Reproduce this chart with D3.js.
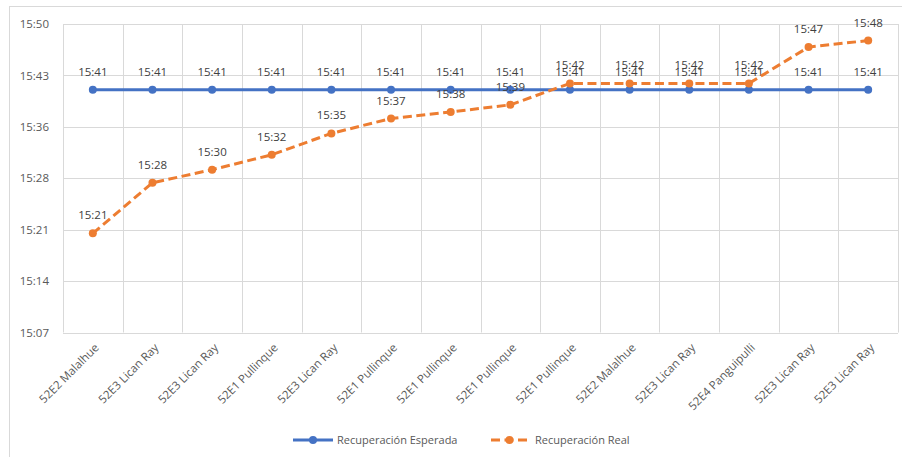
<!DOCTYPE html>
<html>
<head>
<meta charset="utf-8">
<script src="https://cdn.jsdelivr.net/npm/d3@7"></script>
<style>
  html, body { margin: 0; padding: 0; background: #fff; }
  svg { display: block; font-family: "Open Sans", sans-serif; }
</style>
</head>
<body>
<div id="chart"></div>
<script>
// categories along the x axis
const categories = [
  '52E2 Malalhue', '52E3 Lican Ray', '52E3 Lican Ray', '52E1 Pullinque',
  '52E3 Lican Ray', '52E1 Pullinque', '52E1 Pullinque', '52E1 Pullinque',
  '52E1 Pullinque', '52E2 Malalhue', '52E3 Lican Ray', '52E4 Panguipulli',
  '52E3 Lican Ray', '52E3 Lican Ray'
];

// times (hh:mm:ss, seconds estimated)
const esperada = [
  '15:41:12', '15:41:12', '15:41:12', '15:41:12', '15:41:12', '15:41:12', '15:41:12',
  '15:41:12', '15:41:12', '15:41:12', '15:41:12', '15:41:12', '15:41:12', '15:41:12'
];
const real = [
  '15:21:05', '15:28:10', '15:30:00', '15:32:05', '15:35:05', '15:37:10', '15:38:05',
  '15:39:05', '15:42:05', '15:42:05', '15:42:05', '15:42:05', '15:47:10', '15:48:05'
];

// y axis ticks (Excel steps of 0.005 day)
const yTicks = ['15:07:12', '15:14:24', '15:21:36', '15:28:48', '15:36:00', '15:43:12', '15:50:24'];

const seriesNames = ['Recuperación Esperada', 'Recuperación Real'];
const colors = ['#4472C4', '#ED7D31'];

const toMin = s => {
  const [h, m, sec] = s.split(':').map(Number);
  return h * 60 + m + sec / 60;
};
// Excel shows hh:mm, truncating the seconds
const fmt = v => {
  const h = Math.floor(v / 60);
  const m = Math.floor(v - h * 60 + 1e-9);
  return `${h}:${String(m).padStart(2, '0')}`;
};

const width = 902, height = 457;
const margin = { top: 24, right: 4, bottom: 124.5, left: 63 };

const svg = d3.select('#chart').append('svg')
  .attr('width', width)
  .attr('height', height);

// chart border
svg.append('rect')
  .attr('x', 9.5).attr('y', 6.5)
  .attr('width', 900).attr('height', 460)
  .attr('fill', 'none')
  .attr('stroke', '#d9d9d9');

const tickVals = yTicks.map(toMin);

const x = d3.scaleBand()
  .domain(d3.range(categories.length))
  .range([margin.left, width - margin.right]);

const y = d3.scaleLinear()
  .domain([tickVals[0], tickVals[tickVals.length - 1]])
  .range([height - margin.bottom, margin.top]);

const grid = svg.append('g').attr('stroke', '#d9d9d9').attr('stroke-width', 1);

// horizontal gridlines
grid.selectAll('.h')
  .data(tickVals)
  .join('line')
  .attr('x1', margin.left)
  .attr('x2', width - margin.right)
  .attr('y1', d => Math.round(y(d)) + 0.5)
  .attr('y2', d => Math.round(y(d)) + 0.5);

// vertical gridlines at category boundaries
grid.selectAll('.v')
  .data(d3.range(categories.length + 1))
  .join('line')
  .attr('x1', d => Math.round(margin.left + d * x.step()) + 0.5)
  .attr('x2', d => Math.round(margin.left + d * x.step()) + 0.5)
  .attr('y1', y.range()[1])
  .attr('y2', y.range()[0]);

// y axis labels
const yAxis = d3.axisLeft(y)
  .tickValues(tickVals)
  .tickFormat(fmt)
  .tickSize(0)
  .tickPadding(14);

svg.append('g')
  .attr('transform', `translate(${margin.left},0)`)
  .call(yAxis)
  .call(g => g.select('.domain').remove())
  .call(g => g.selectAll('text')
    .attr('fill', '#595959')
    .style('font-size', '11.5px')
    .style('font-family', '"Open Sans", sans-serif'));

// x axis labels, rotated
const xAxis = d3.axisBottom(x)
  .tickFormat(i => categories[i])
  .tickSize(0)
  .tickPadding(0);

svg.append('g')
  .attr('transform', `translate(0,${y.range()[0]})`)
  .call(xAxis)
  .call(g => g.select('.domain').remove())
  .call(g => g.selectAll('text')
    .attr('fill', '#595959')
    .style('font-size', '11.5px')
    .style('font-family', '"Open Sans", sans-serif')
    .attr('text-anchor', 'end')
    .attr('dy', '0.35em')
    .attr('transform', 'translate(4,13) rotate(-45)'));

const series = [esperada, real].map((arr, k) => ({
  name: seriesNames[k],
  color: colors[k],
  values: arr.map(toMin),
  dash: k === 1 ? '9,4.5' : null
}));

const line = d3.line()
  .x((d, i) => x(i) + x.bandwidth() / 2)
  .y(d => y(d));

series.forEach(s => {
  const g = svg.append('g');
  g.append('path')
    .datum(s.values)
    .attr('d', line)
    .attr('fill', 'none')
    .attr('stroke', s.color)
    .attr('stroke-width', 3)
    .attr('stroke-dasharray', s.dash);
  g.selectAll('circle')
    .data(s.values)
    .join('circle')
    .attr('cx', (d, i) => x(i) + x.bandwidth() / 2)
    .attr('cy', d => y(d))
    .attr('r', 4)
    .attr('fill', s.color);
  g.selectAll('text')
    .data(s.values)
    .join('text')
    .attr('x', (d, i) => x(i) + x.bandwidth() / 2)
    .attr('y', d => y(d) - 18)
    .attr('dy', '0.35em')
    .attr('text-anchor', 'middle')
    .attr('fill', '#404040')
    .style('font-size', '11.5px')
    .text(d => fmt(d));
});

// legend
const legendY = 440;
const legendItems = [
  { x0: 293, len: 40, tx: 337 },
  { x0: 491, len: 37, tx: 535 }
];
series.forEach((s, k) => {
  const it = legendItems[k];
  const g = svg.append('g');
  g.append('line')
    .attr('x1', it.x0).attr('x2', it.x0 + it.len)
    .attr('y1', legendY).attr('y2', legendY)
    .attr('stroke', s.color)
    .attr('stroke-width', 3)
    .attr('stroke-dasharray', s.dash ? '9,4.5' : null);
  g.append('circle')
    .attr('cx', it.x0 + it.len / 2).attr('cy', legendY)
    .attr('r', 4).attr('fill', s.color);
  g.append('text')
    .attr('x', it.tx).attr('y', legendY)
    .attr('dy', '0.35em')
    .attr('fill', '#595959')
    .style('font-size', '11px')
    .text(s.name);
});
</script>
</body>
</html>
